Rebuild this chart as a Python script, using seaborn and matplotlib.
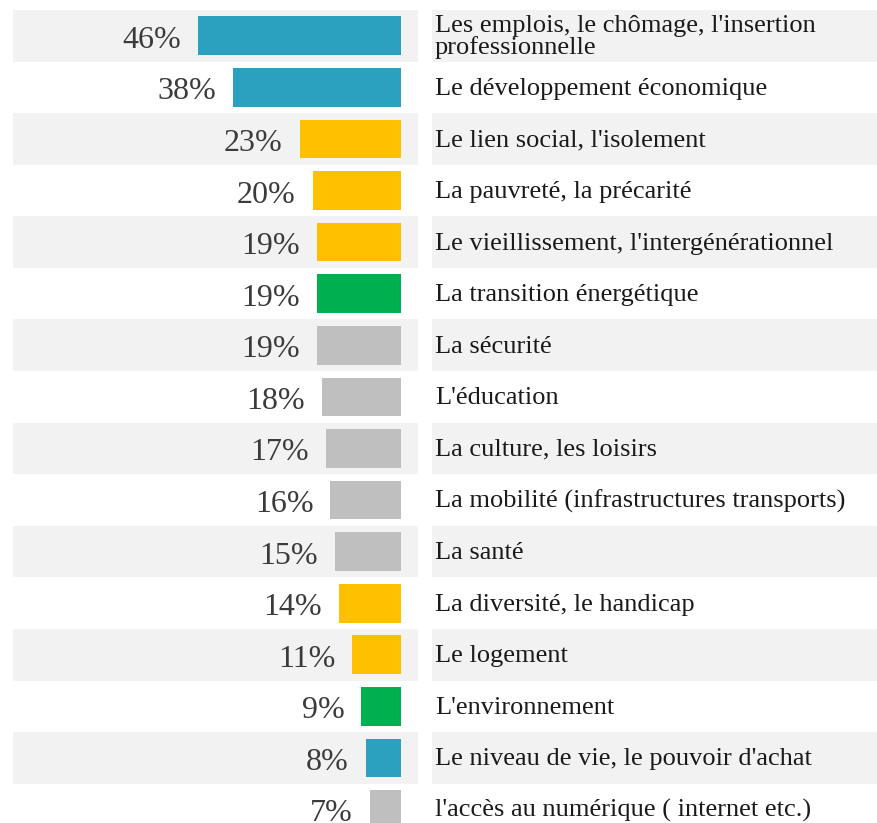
import matplotlib
matplotlib.use("Agg")
import matplotlib.pyplot as plt
import seaborn as sns
import pandas as pd

categories = [
    "Les emplois, le chômage, l'insertion\nprofessionnelle",
    "Le développement économique",
    "Le lien social, l'isolement",
    "La pauvreté, la précarité",
    "Le vieillissement, l'intergénérationnel",
    "La transition énergétique",
    "La sécurité",
    "L'éducation",
    "La culture, les loisirs",
    "La mobilité (infrastructures transports)",
    "La santé",
    "La diversité, le handicap",
    "Le logement",
    "L'environnement",
    "Le niveau de vie, le pouvoir d'achat",
    "l'accès au numérique ( internet etc.)",
]
values = [46, 38, 23, 20, 19, 19, 19, 18, 17, 16, 15, 14, 11, 9, 8, 7]
groups = ["blue", "blue", "yellow", "yellow", "yellow", "green", "grey", "grey",
          "grey", "grey", "grey", "yellow", "yellow", "green", "blue", "grey"]

group_colors = {"blue": "#2ca1bf", "yellow": "#ffc000", "green": "#00b050", "grey": "#bfbfbf"}
stripe_color = "#f2f2f2"

sns.set_theme(style="white")
plt.rcParams["font.family"] = ["Liberation Serif", "DejaVu Serif"]

df = pd.DataFrame({"cat": categories, "value": values, "group": groups})

W, H = 877, 823
fig = plt.figure(figsize=(W / 100, H / 100), dpi=100)
fig.patch.set_facecolor("white")

top_px = 10
pitch = 51.58
n = len(categories)
y_bottom = (H - top_px) / pitch - 0.5

# left axes (bars)
left_px, right_px = 13, 418
zero_px = 401
pxper = 4.413
axL = fig.add_axes([left_px / W, 0, (right_px - left_px) / W, (H - top_px) / H])
for i in range(n):
    if i % 2 == 0:
        axL.axhspan(i - 0.5, i + 0.5, color=stripe_color, lw=0, zorder=0)

sns.barplot(data=df, y="cat", x="value", hue="cat", orient="h",
            palette=[group_colors[g] for g in groups], width=0.75,
            legend=False, ax=axL, zorder=2, saturation=1, linewidth=0,
            edgecolor="none")
axL.set_xlim((zero_px - left_px) / pxper, -(right_px - zero_px) / pxper)
axL.set_ylim(y_bottom, -0.5)
off = 17 / pxper
for i, v in enumerate(values):
    axL.text(v + off, i + 1.0 / pitch, f"{v}%", ha="right", va="center_baseline",
             fontsize=23, color="#3b3b3b")
axL.axis("off")

# right axes (labels)
axR = fig.add_axes([432 / W, 0, (W - 432) / W, (H - top_px) / H])
for i in range(n):
    if i % 2 == 0:
        axR.axhspan(i - 0.5, i + 0.5, color=stripe_color, lw=0, zorder=0)
axR.set_xlim(0, 1)
axR.set_ylim(y_bottom, -0.5)
cap_half = 7.5 / pitch
gap = 22.0 / pitch
for i, c in enumerate(categories):
    lines = c.split("\n")
    k = len(lines)
    for j, line in enumerate(lines):
        axR.text(3 / (W - 432), i + cap_half + (j - (k - 1) / 2) * gap, line,
                 ha="left", va="baseline", fontsize=19, color="#1a1a1a")
axR.axis("off")

fig.savefig("out.png", dpi=100, facecolor="white")
